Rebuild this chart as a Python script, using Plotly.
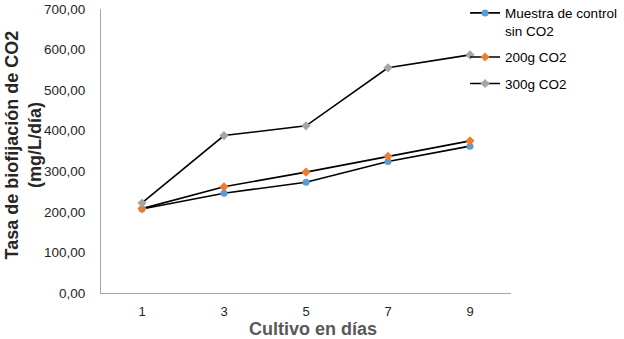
import plotly.graph_objects as go

dias = [1, 3, 5, 7, 9]
control = [207, 246, 273, 324, 362]
g200 = [208, 262, 298, 337, 375]
g300 = [222, 388, 412, 555, 587]
y_ticks = [0, 100, 200, 300, 400, 500, 600, 700]
y_tick_text = ["0,00", "100,00", "200,00", "300,00", "400,00", "500,00", "600,00", "700,00"]

series = [
    ("Muestra de control<br>sin CO2", control, "#5b9bd5", "circle"),
    ("200g CO2", g200, "#ed7d31", "diamond"),
    ("300g CO2", g300, "#a5a5a5", "diamond"),
]

fig = go.Figure()
for i, (name, vals, col, sym) in enumerate(series):
    fig.add_trace(go.Scatter(
        x=dias, y=vals, name=name, mode="lines+markers", legendgroup=f"g{i}",
        line=dict(color="black", width=1.6),
        marker=dict(color=col, symbol=sym, size=7),
    ))

fig.update_layout(
    width=624, height=339,
    margin=dict(l=101, r=113, t=9, b=46, autoexpand=False),
    paper_bgcolor="white", plot_bgcolor="white",
    font=dict(family="Liberation Sans, Arial, sans-serif", color="#595959"),
    showlegend=True,
    legend=dict(x=0.888, y=1.04, xanchor="left", yanchor="top", valign="top",
                traceorder="grouped", tracegroupgap=6,
                font=dict(size=13.5, color="black"), bgcolor="rgba(0,0,0,0)",
                itemwidth=30),
    xaxis=dict(range=[0, 10], tickvals=dias, ticktext=[str(d) for d in dias],
               showgrid=False, zeroline=False, showline=True, linecolor="#a6a6a6",
               linewidth=1, ticks="", ticklabelstandoff=6, automargin=False,
               tickfont=dict(size=13, color="#262626")),
    yaxis=dict(range=[0, 700], tickvals=y_ticks, ticktext=y_tick_text,
               showgrid=False, zeroline=False, showline=True, linecolor="#a6a6a6",
               linewidth=1, ticks="", ticklabelstandoff=12, automargin=False,
               tickfont=dict(size=13.5, color="#262626")),
    annotations=[
        dict(text="<b>Cultivo en días</b>", xref="paper", yref="paper",
             x=0.517, y=-0.125, xanchor="center", yanchor="middle", showarrow=False,
             font=dict(size=18, color="#595959")),
        dict(text="<b>Tasa de biofijación de CO2<br>(mg/L/día)</b>", xref="paper", yref="paper",
             x=-0.19, y=0.52, xanchor="center", yanchor="middle", showarrow=False,
             textangle=-90, font=dict(size=18, color="#262626")),
    ],
)

fig.write_html("out.html")
